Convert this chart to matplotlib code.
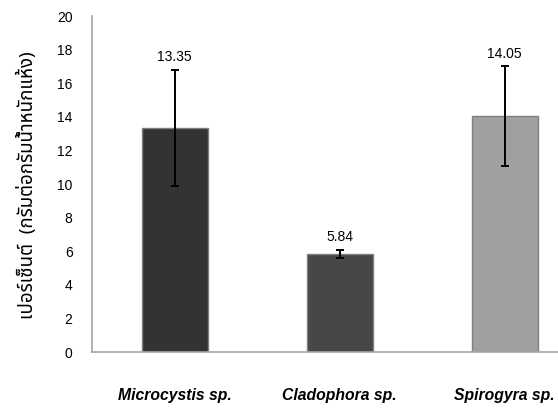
import matplotlib
matplotlib.use("Agg")
import matplotlib.pyplot as plt

# ข้อมูลจากกราฟ
species = ["Microcystis sp.", "Cladophora sp.", "Spirogyra sp."]
percent = [13.35, 5.84, 14.05]
sd = [3.45, 0.22, 2.95]
bar_colors = ["#333333", "#474747", "#a0a0a0"]
yticks = [0, 2, 4, 6, 8, 10, 12, 14, 16, 18, 20]

fig = plt.figure(figsize=(5.58, 4.08), dpi=100)
ax = fig.add_axes([92 / 558, 1 - 352 / 408, 1 - 92 / 558, 336 / 408])

x = range(len(species))
ax.bar(x, percent, width=0.4, color=bar_colors, edgecolor="#7f7f7f", linewidth=1, zorder=2)
ax.errorbar(x, percent, yerr=sd, fmt="none", ecolor="black", elinewidth=1.4,
            capsize=3, capthick=1.4, zorder=3)

for xi, v, e in zip(x, percent, sd):
    ax.text(xi, v + e + 0.35, f"{v:.2f}", ha="center", va="bottom",
            family="Liberation Sans", fontsize=10)

ax.set_xlim(-0.5, (558 - 92) / 165 - 0.5)
ax.set_ylim(0, 20)
ax.set_yticks(yticks)
ax.set_yticklabels([str(t) for t in yticks], family="Liberation Sans", fontsize=10)
ax.set_xticks(list(x))
ax.set_xticklabels(species, family="Liberation Sans", fontsize=11.3,
                   fontweight="bold", fontstyle="italic")
ax.tick_params(axis="y", length=0, pad=14)
ax.tick_params(axis="x", length=0, pad=26)

for s in ["top", "right"]:
    ax.spines[s].set_visible(False)
for s in ["left", "bottom"]:
    ax.spines[s].set_color("#a6a6a6")
    ax.spines[s].set_linewidth(1.2)

fig.text(27 / 558, 1 - 185 / 408, "เปอร์เซ็นต์  (กรัมต่อกรัมน้ำหนักแห้ง)",
         rotation=90, ha="center", va="center", fontsize=13.5, fontweight="heavy",
         family=["Noto Sans Thai", "DejaVu Sans"])

fig.savefig("out.png")
